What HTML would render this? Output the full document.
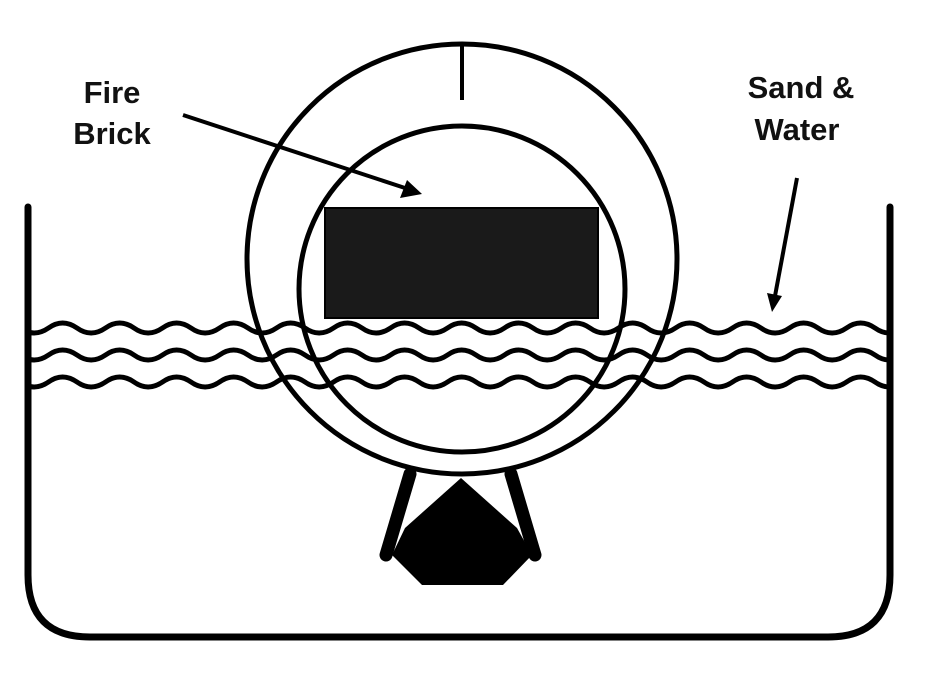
<!DOCTYPE html>
<html><head><style>body{margin:0;background:#fff}svg{display:block}text{font-family:"Liberation Sans",Arial,sans-serif;font-weight:bold;font-size:31px;fill:#111}</style></head><body>
<svg width="926" height="675" viewBox="0 0 926 675">
<defs><clipPath id="c"><rect x="28" y="0" width="862" height="675"/></clipPath></defs>
<path d="M28,207 L28,575 Q28,637 90,637 L828,637 Q890,637 890,575 L890,207" fill="none" stroke="#000" stroke-width="7" stroke-linecap="round"/>
<g fill="none" stroke="#000" stroke-width="5" clip-path="url(#c)">
<path id="w" d="M20,328 q14,10 28.5,0 q14,-10 28.5,0 q14,10 28.5,0 q14,-10 28.5,0 q14,10 28.5,0 q14,-10 28.5,0 q14,10 28.5,0 q14,-10 28.5,0 q14,10 28.5,0 q14,-10 28.5,0 q14,10 28.5,0 q14,-10 28.5,0 q14,10 28.5,0 q14,-10 28.5,0 q14,10 28.5,0 q14,-10 28.5,0 q14,10 28.5,0 q14,-10 28.5,0 q14,10 28.5,0 q14,-10 28.5,0 q14,10 28.5,0 q14,-10 28.5,0 q14,10 28.5,0 q14,-10 28.5,0 q14,10 28.5,0 q14,-10 28.5,0 q14,10 28.5,0 q14,-10 28.5,0 q14,10 28.5,0 q14,-10 28.5,0 q14,10 28.5,0 q14,-10 28.5,0 q14,10 28.5,0"/>
<use href="#w" y="27"/><use href="#w" y="54"/>
</g>
<circle cx="462" cy="259" r="215" fill="none" stroke="#000" stroke-width="5"/>
<circle cx="462" cy="289" r="163" fill="none" stroke="#000" stroke-width="5"/>
<line x1="462" y1="45" x2="462" y2="100" stroke="#000" stroke-width="4"/>
<rect x="325" y="208" width="273" height="110" fill="#1a1a1a" stroke="#000" stroke-width="2"/>
<g stroke="#000" stroke-width="13" stroke-linecap="round"><line x1="410" y1="474" x2="386" y2="555"/><line x1="511" y1="474" x2="535" y2="555"/></g>
<polygon points="461,478 405,528 392,555 422,585 503,585 532,555 517,528" fill="#000"/>
<g stroke="#000" stroke-width="4"><line x1="183" y1="115" x2="405" y2="188"/><line x1="797" y1="178" x2="775" y2="296"/></g>
<polygon points="422,194 400,198 407,180" fill="#000"/>
<polygon points="772,312 767,293 782,296" fill="#000"/>
<text x="112" y="103" text-anchor="middle">Fire</text>
<text x="112" y="144" text-anchor="middle">Brick</text>
<text x="801" y="98" text-anchor="middle">Sand &amp;</text>
<text x="797" y="140" text-anchor="middle">Water</text>
</svg></body></html>
